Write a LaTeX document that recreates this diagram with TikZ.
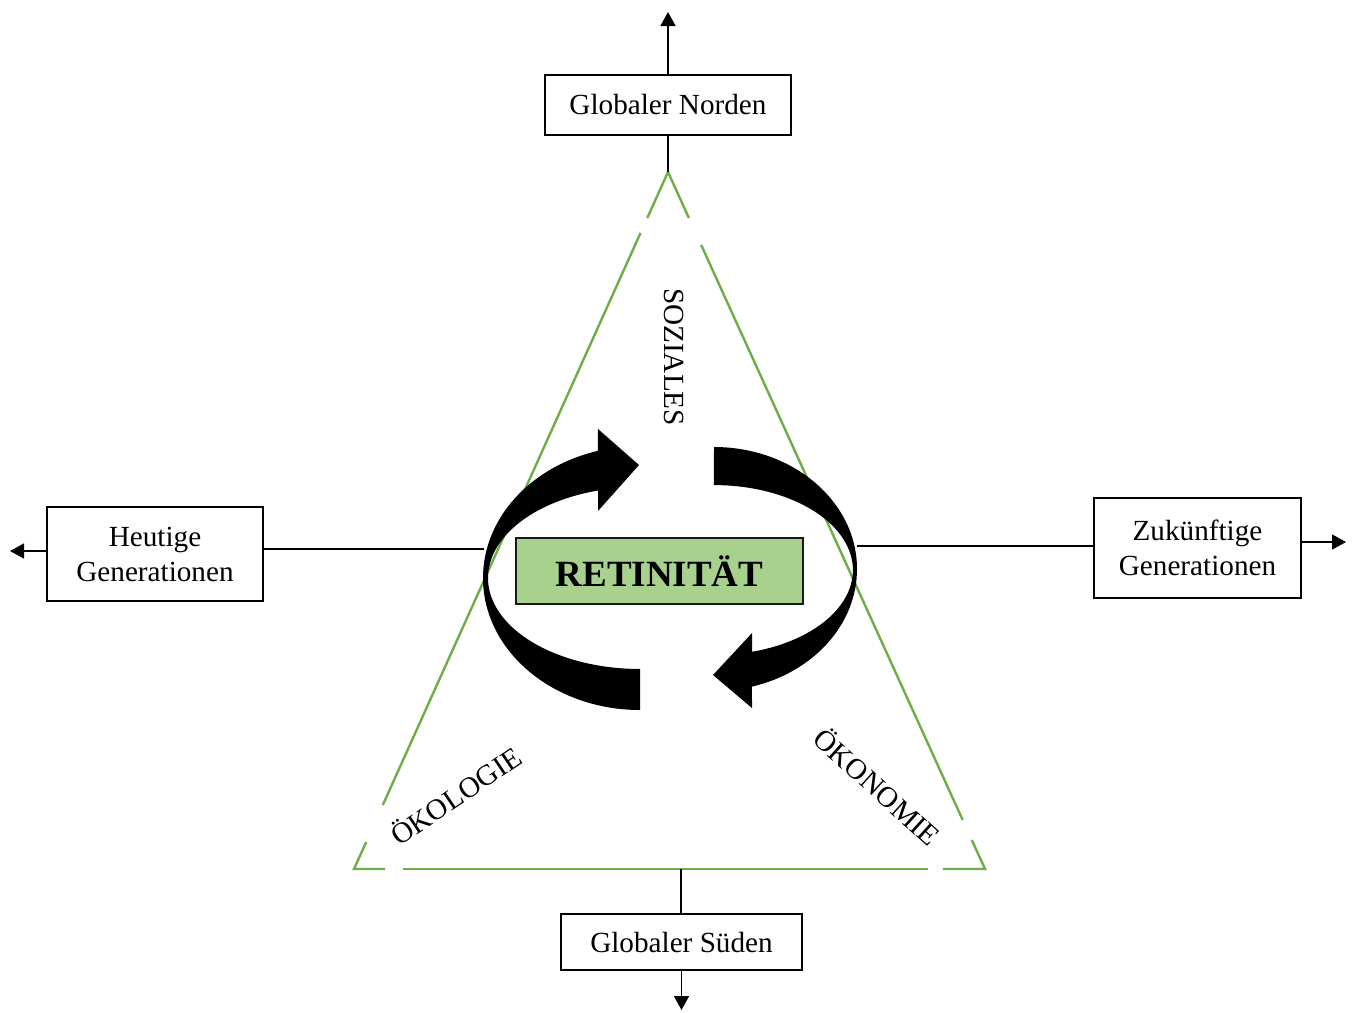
\documentclass[tikz,border=0pt]{standalone}
\usepackage{fontspec}
\setmainfont{Liberation Serif}
\usetikzlibrary{arrows.meta}
\definecolor{tgreen}{HTML}{70AD47}
\definecolor{rgreen}{HTML}{A9D18E}
\begin{document}
\begin{tikzpicture}[x=0.5pt,y=0.5pt,
  box/.style={draw, line width=1.2pt, fill=white, align=center, inner sep=0pt,
              font=\fontsize{14.6}{17.5}\selectfont},
  conn/.style={line width=0.7pt},
  arr/.style={conn, -{Triangle[length=7pt,width=7.5pt]}},
  tri/.style={draw=tgreen, line width=1.2pt},
  lab/.style={font=\fontsize{14.6}{17.5}\selectfont, inner sep=0pt},
  bigarrow/.style={fill=black, draw=none}]
\useasboundingbox (0,0) rectangle (1354,-1012);

% triangle corners and gap points
\coordinate (A) at (668,-172);
\coordinate (BL) at (354,-869);
\coordinate (BR) at (985,-869);
\coordinate (bmid) at (681,-869);

% triangle (with gaps left by the label areas)
\draw[tri] (647.3,-218) -- (A) -- (688.9,-218);
\draw[tri] (640.5,-233) -- (382.8,-805);
\draw[tri] (366.2,-842) -- (BL) -- (385,-869);
\draw[tri] (403,-869) -- (928,-869);
\draw[tri] (943,-869) -- (BR) -- (971.8,-840);
\draw[tri] (962.7,-820) -- (701.2,-245);

% boxes
\node[box, minimum width=123pt, minimum height=30pt] (north) at (668,-105) {Globaler Norden};
\node[box, minimum width=120.5pt, minimum height=28pt] (south) at (681.5,-942) {Globaler Süden};
\node[box, minimum width=108pt, minimum height=47pt] (heute) at (155,-554) {Heutige\\Generationen};
\node[box, minimum width=103.5pt, minimum height=50pt] (zukunft) at (1197.5,-548) {Zukünftige\\Generationen};

% connector end points
\coordinate (ntip) at (668,-12);
\coordinate (stip) at (681.5,-1010);
\coordinate (lA) at (484,-549);
\coordinate (ltip) at (10,-551);
\coordinate (rA) at (857,-546);
\coordinate (rtip) at (1346,-542);

% connectors
\draw[conn] (A) -- (north.south);
\draw[arr] (north.north) -- (ntip);
\draw[conn] (bmid) -- (bmid |- south.north);
\draw[arr] (south.south) -- (stip);
\draw[conn] (lA) -- (lA -| heute.east);
\draw[arr] (heute.west |- ltip) -- (ltip);
\draw[conn] (rA) -- (rA -| zukunft.west);
\draw[arr] (zukunft.east |- rtip) -- (rtip);

% big curved arrows
\fill[bigarrow] (640,-710) arc[start angle=270, end angle=105.6, x radius=157, y radius=132]
  -- (598,-429) -- (639,-465) -- (598,-511) -- (598.1,-490.5)
  arc[start angle=106, end angle=270, x radius=152, y radius=91] -- cycle;
\fill[bigarrow] (714,-447) arc[start angle=90, end angle=-74.6, x radius=143, y radius=122]
  -- (752,-708) -- (713,-675) -- (752,-633) -- (752,-651.8)
  arc[start angle=-74.1, end angle=90, x radius=139, y radius=85] -- cycle;

% central box
\node[draw=black!90, line width=1.2pt, fill=rgreen, minimum width=143.5pt, minimum height=33pt,
      inner sep=0pt, font=\fontsize{18.5}{22}\selectfont\bfseries] (ret) at (659.5,-571) {RETINITÄT};

% labels
\node[lab, rotate=-90] (soz) at (674,-357) {SOZIALES};
\node[lab, rotate=34] (oek) at (455,-795) {ÖKOLOGIE};
\node[lab, rotate=-42] (oko) at (878,-786) {ÖKONOMIE};
\end{tikzpicture}
\end{document}
